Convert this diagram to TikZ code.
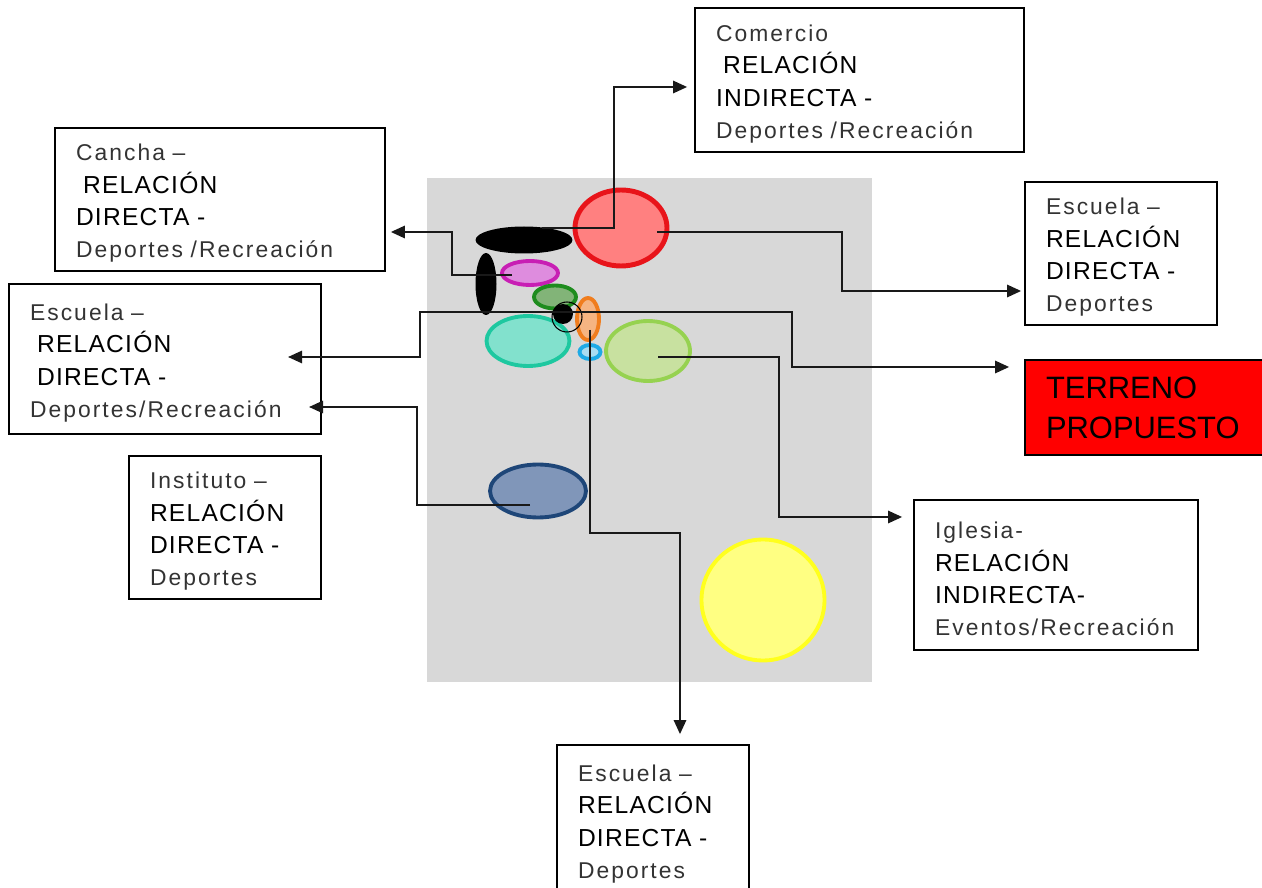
\documentclass[tikz,border=0pt]{standalone}
\usepackage{fontspec}
\setmainfont{Liberation Sans}
\newfontfamily\softfont[LetterSpace=9]{Liberation Sans}
\newfontfamily\capsfont[LetterSpace=5]{Liberation Sans}
\usepackage{tikz}
\usetikzlibrary{positioning,arrows.meta,shapes.geometric,calc}
\definecolor{panel}{HTML}{D8D8D8}
\definecolor{softink}{HTML}{333333}
\definecolor{redline}{HTML}{E8141A}
\definecolor{redfill}{HTML}{FF8080}
\definecolor{magline}{HTML}{C81EB4}
\definecolor{magfill}{HTML}{DE8CDE}
\definecolor{grnline}{HTML}{1E8C1E}
\definecolor{grnfill}{HTML}{82B478}
\definecolor{orgline}{HTML}{F07D1E}
\definecolor{orgfill}{HTML}{F5B482}
\definecolor{cyanline}{HTML}{1EAAE6}
\definecolor{cyanfill}{HTML}{AADCF0}
\definecolor{tealline}{HTML}{1EC8A0}
\definecolor{tealfill}{HTML}{82E1CD}
\definecolor{limeline}{HTML}{96D250}
\definecolor{limefill}{HTML}{C8E1A0}
\definecolor{navyline}{HTML}{1E4678}
\definecolor{navyfill}{HTML}{8096B9}
\definecolor{yelline}{HTML}{FFFF1E}
\definecolor{yelfill}{HTML}{FFFF82}
\definecolor{siteRed}{HTML}{FF0000}
\newcommand{\softline}[1]{{\softfont\fontsize{13}{18.4}\selectfont\color{softink}#1}}
\newcommand{\toprow}[1]{\softline{\rule{0pt}{14pt}#1}}
\newcommand{\capline}[1]{{\capsfont\fontsize{14}{18.4}\selectfont #1}}
\tikzset{
  spot/.style 2 args={ellipse, draw=#1, fill=#2, line width=2.2pt, inner sep=0pt},
  blob/.style={ellipse, fill=black, inner sep=0pt},
  infobox/.style={draw, line width=1pt, fill=white, align=left, inner xsep=0.42cm, inner ysep=0pt,
                  font=\fontsize{13}{18.4}\selectfont},
  conn/.style={-{Triangle[length=8pt,width=7pt]}, line width=1.2pt, draw=black!90},
}

\begin{document}
\begin{tikzpicture}[x=0.02cm, y=-0.02cm]
\useasboundingbox (0,0) rectangle (1262,888);
\clip (0,0) rectangle (1262,888);
\fill[panel] (427,178) rectangle (872,682);

% sites on the map
\node[spot={redline}{redfill}, line width=2.8pt, minimum width=1.84cm, minimum height=1.52cm] (ered) at (621,228) {};
\node[spot={magline}{magfill}, minimum width=1.12cm, minimum height=0.48cm] (emag) at (530,273) {};
\node[spot={grnline}{grnfill}, minimum width=0.84cm, minimum height=0.46cm] (egreen) at (555,297) {};
\node[spot={tealline}{tealfill}, minimum width=1.66cm, minimum height=1.0cm] (eteal) at (528,341) {};
\node[spot={limeline}{limefill}, minimum width=1.68cm, minimum height=1.2cm] (elime) at (648,351) {};
\node[spot={cyanline}{cyanfill}, minimum width=0.42cm, minimum height=0.28cm] (ecyan) at (590,352) {};
\node[spot={orgline}{orgfill}, minimum width=0.44cm, minimum height=0.84cm] (eorange) at (588,319) {};
\node[spot={navyline}{navyfill}, minimum width=1.92cm, minimum height=1.06cm] (enavy) at (538,491) {};
\node[spot={yelline}{yelfill}, minimum width=2.46cm, minimum height=2.42cm] (eyellow) at (763,600) {};
\node[blob, minimum width=1.94cm, minimum height=0.54cm] (hblack) at (524,240) {};
\node[blob, minimum width=0.42cm, minimum height=1.24cm] (vblack) at (486,284) {};
\node[circle, draw, line width=0.6pt, minimum size=0.6cm, inner sep=0pt] (ering) at (567,317) {};
\node[blob, minimum width=0.4cm, minimum height=0.4cm] (edot) at (563,314) {};

% boxes
\node[infobox, text width=5.74cm, minimum height=2.88cm] (comercio) at (859.5,80)
  {\toprow{Comercio}\\ \capline{\hspace*{4pt}RELACIÓN}\\ \capline{INDIRECTA -}\\ \softline{Deportes /Recreación}};
\node[infobox, text width=5.76cm, minimum height=2.86cm] (cancha) at (220,199.5)
  {\toprow{Cancha –}\\ \capline{\hspace*{4pt}RELACIÓN}\\ \capline{DIRECTA -}\\ \softline{Deportes /Recreación}};
\node[infobox, text width=5.40cm, minimum height=3.0cm] (escL) at (165,359)
  {\toprow{Escuela –}\\ \capline{\hspace*{4pt}RELACIÓN}\\ \capline{\hspace*{4pt}DIRECTA -}\\ \softline{Deportes/Recreación}};
\node[infobox, text width=3.0cm, minimum height=2.86cm] (instituto) at (225,527.5)
  {\toprow{Instituto –}\\ \capline{RELACIÓN}\\ \capline{DIRECTA -}\\ \softline{Deportes}};
\node[infobox, text width=3.0cm, minimum height=2.86cm] (escR) at (1121,253.5)
  {\toprow{Escuela –}\\ \capline{RELACIÓN}\\ \capline{DIRECTA -}\\ \softline{Deportes}};
\node[infobox, fill=siteRed, text width=4.06cm, minimum height=1.9cm,
      font=\fontsize{17.6}{22.7}\selectfont] (terreno) at (1147.5,407.5)
  {TERRENO\\PROPUESTO};
\node[infobox, text width=4.84cm, minimum height=3.0cm] (iglesia) at (1056,575)
  {\toprow{Iglesia-}\\ \capline{RELACIÓN}\\ \capline{INDIRECTA-}\\ \softline{Eventos/Recreación}};
\node[infobox, text width=3.0cm, minimum height=3.0cm] (escB) at (653,820)
  {\toprow{Escuela –}\\ \capline{RELACIÓN}\\ \capline{DIRECTA -}\\ \softline{Deportes}};

% bends and free ends
\coordinate (bCom) at (614,87);
\coordinate (bCan) at (452,232);
\coordinate (bEsA) at (420,357);
\coordinate (tEsA) at (288,357);
\coordinate (bTer) at (792,367);
\coordinate (bEsB) at (417,407);
\coordinate (tEsB) at (309,407);
\coordinate (bEsR) at (842,291);
\coordinate (bIgl) at (779,517);
\coordinate (bEsC) at (680,533);

\draw[conn, shorten >=0.14cm] ($(hblack.center)+(18,-12)$) -| (bCom) -- (bCom -| comercio.west);
\draw[conn, shorten >=0.1cm] ($(emag.center)+(-18,2)$) -| (bCan) -- (bCan -| cancha.east);
\draw[conn] ($(edot.center)+(0,-2)$) -| (bEsA) -- (tEsA);
\draw[conn, shorten >=0.3cm] ($(edot.center)+(0,-2)$) -| (bTer) -- (bTer -| terreno.west);
\draw[conn] ($(enavy.center)+(-8,14)$) -| (bEsB) -- (tEsB);
\draw[conn, shorten >=0.06cm] ($(ered.center)+(36,4)$) -| (bEsR) -- (bEsR -| escR.west);
\draw[conn, shorten >=0.22cm] ($(elime.center)+(10,6)$) -| (bIgl) -- (bIgl -| iglesia.west);
\draw[conn, shorten >=0.2cm] ($(eorange.center)+(2,11)$) |- (bEsC) -- (bEsC |- escB.north);
\end{tikzpicture}
\end{document}
